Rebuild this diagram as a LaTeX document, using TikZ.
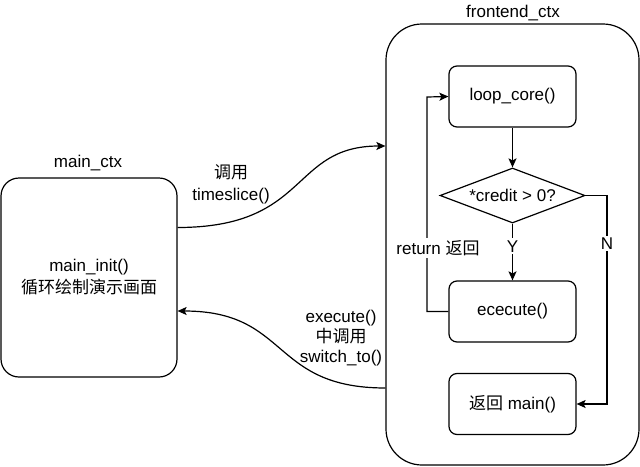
\documentclass[tikz,border=0pt]{standalone}
\usepackage{fontspec}
\setmainfont{Liberation Sans}
\newfontfamily\cjk{Noto Sans CJK SC}
\usetikzlibrary{
    arrows.meta,
    shapes.geometric,
    positioning
}

\begin{document}
\begin{tikzpicture}[x=1pt, y=-1pt,
    font=\fontsize{17}{22}\selectfont,
    line width=1.2pt,
    ctxbox/.style={draw, fill=white, align=center, inner sep=0},
    stepbox/.style={draw, rounded corners=8, minimum width=127, minimum height=61, inner sep=0},
    lbl/.style={fill=white, inner sep=2, align=center},
    arr/.style={-{Stealth[length=9pt, width=8pt, inset=2pt]}}
]
    \useasboundingbox (0, 0) rectangle (640, 466);
    % the two contexts
    \node[ctxbox, rounded corners=18, minimum width=176, minimum height=199] (main) at (89, 277.5) {main\_init()\\{\cjk 循环绘制演示画面}};
    \node[ctxbox, rounded corners=36, minimum width=253, minimum height=441] (front) at (512.5, 244.5) {};
    \node (maintitle) at (88, 163) {main\_ctx};
    \node (fronttitle) at (513, 13) {frontend\_ctx};
    % steps inside frontend_ctx
    \node[stepbox] (loop) at (512.5, 96.5) {loop\_core()};
    \node[draw, diamond, aspect=2.6, minimum width=145, minimum height=55, inner sep=0] (cond) at (512.5, 195.5) {*credit > 0?};
    \node[stepbox] (exec) at (512.5, 311.5) {ececute()};
    \node[stepbox] (ret) at (512.5, 404) {{\cjk 返回} main()};
    \draw[arr] (loop) -- (cond);
    \draw[arr] (cond) -- node[lbl, pos=0.4] {Y} (exec);
    \coordinate (back) at (427, 97);
    \draw[arr] (exec.west) -| (back) -- (loop.west);
    \node[lbl] (retlbl) at (438, 248) {return {\cjk 返回}};
    \coordinate (nturn) at (607, 195.5);
    \draw[arr] (cond.east) -- (nturn) |- node[lbl, pos=0.115] {N} (ret.east);
    % switching between the contexts
    \draw[arr] ([yshift=50]main.east) .. controls (310, 227.5) and (290, 146) .. ([yshift=98.5]front.west);
    \draw[arr] ([yshift=-143.5]front.west) .. controls (270, 388) and (290, 311) .. ([yshift=-33.5]main.east);
    \node[align=center] (calllbl) at (231, 184) {{\cjk 调用}\\timeslice()};
    \node[align=center, font=\fontsize{17}{20}\selectfont] (switchlbl) at (341, 338) {execute()\\{\cjk 中调用}\\switch\_to()};
\end{tikzpicture}
\end{document}
